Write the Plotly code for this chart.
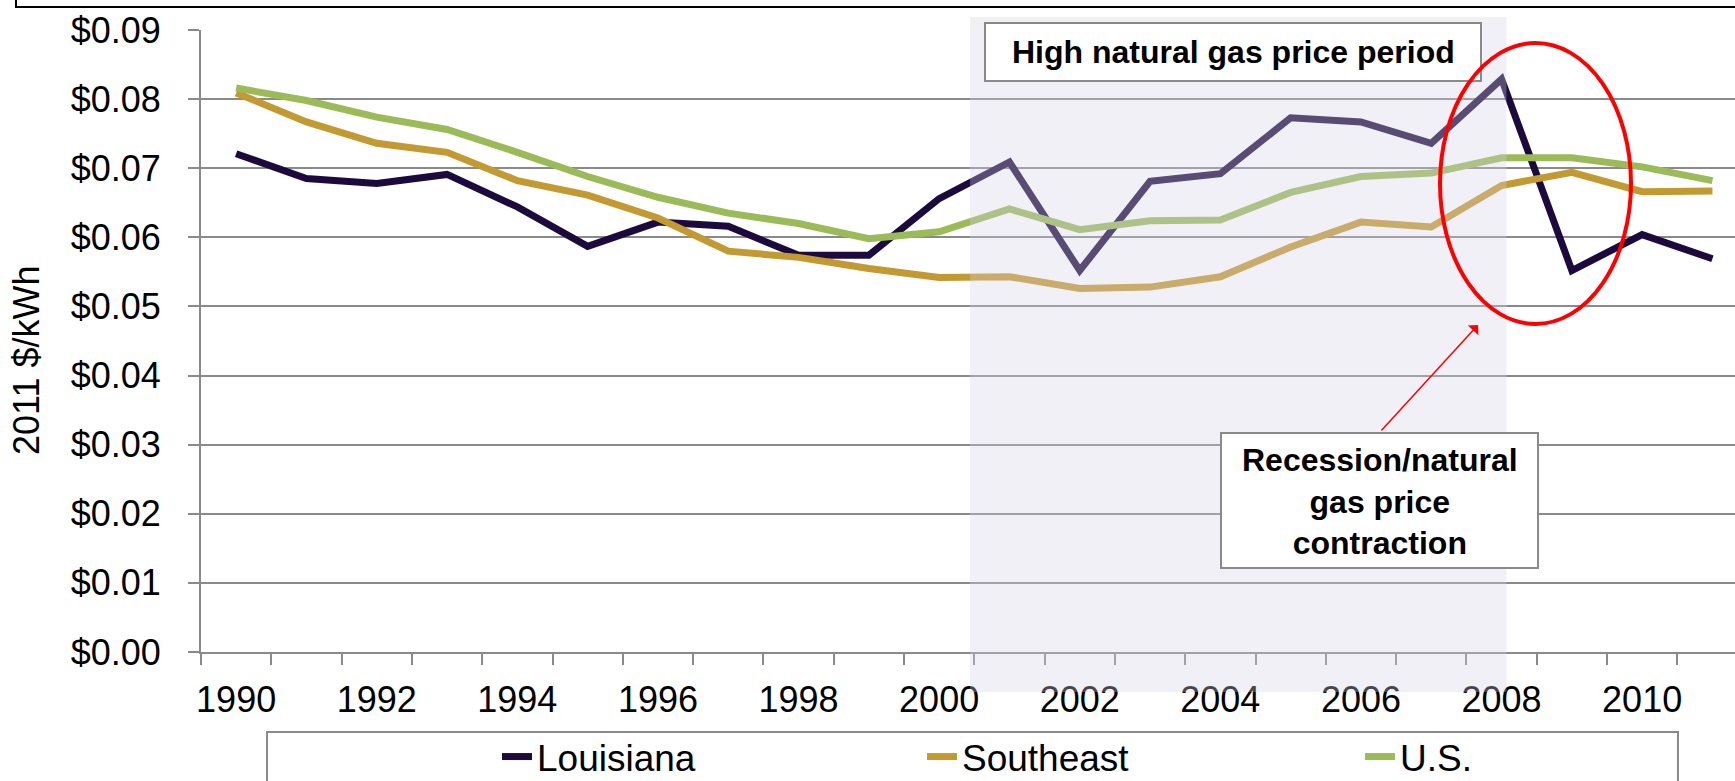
import plotly.graph_objects as go

years = list(range(1990, 2012))
louisiana = [0.0721, 0.0685, 0.0678, 0.0691, 0.0644, 0.0587, 0.0622, 0.0616, 0.0574, 0.0574,
             0.0656, 0.0709, 0.0552, 0.0681, 0.0692, 0.0773, 0.0767, 0.0736, 0.0829, 0.0552,
             0.0604, 0.0569]
southeast = [0.0809, 0.0767, 0.0736, 0.0723, 0.0682, 0.0661, 0.0628, 0.0580, 0.0571, 0.0555,
             0.0542, 0.0543, 0.0526, 0.0528, 0.0543, 0.0586, 0.0622, 0.0615, 0.0675, 0.0694,
             0.0666, 0.0667]
us = [0.0816, 0.0798, 0.0774, 0.0756, 0.0723, 0.0688, 0.0658, 0.0635, 0.0620, 0.0598,
      0.0608, 0.0641, 0.0611, 0.0624, 0.0625, 0.0665, 0.0688, 0.0693, 0.0715, 0.0715,
      0.0702, 0.0682]
series_names = ["Louisiana", "Southeast", "U.S."]
series_colors = ["#1c0a3c", "#c39a31", "#9bbb59"]
x_tick_years = list(range(1990, 2011, 2))
y_ticks = [i / 100 for i in range(0, 10)]
high_gas_period = (2000.44, 2008.07)

W, H = 1735, 781
L, R, T, B = 201, 0, 30, 129
pw, ph = W - L - R, H - T - B


def px(x):
    return (x - L) / pw


def py(y):
    return (H - B - y) / ph


FONT = "Liberation Sans, Arial, sans-serif"
GRID = "#8a8a8a"

legend_ids = ["legend", "legend2", "legend3"]
legend_text_x = [537, 962, 1400]

fig = go.Figure()
for name, vals, col, lid in zip(series_names, [louisiana, southeast, us], series_colors, legend_ids):
    fig.add_trace(go.Scatter(x=years, y=vals, name=name, mode="lines", legend=lid,
                             line=dict(color=col, width=7)))

shapes = [
    dict(type="rect", xref="x", yref="paper", x0=high_gas_period[0], x1=high_gas_period[1],
         y0=py(692), y1=py(17), fillcolor="rgba(214,210,230,0.33)", line=dict(width=0),
         layer="above"),
    dict(type="rect", xref="paper", yref="paper", x0=px(985), x1=px(1481), y0=py(81), y1=py(23),
         fillcolor="white", line=dict(color="#8a8a8a", width=2), layer="above"),
    dict(type="rect", xref="paper", yref="paper", x0=px(1221), x1=px(1538), y0=py(568), y1=py(433),
         fillcolor="white", line=dict(color="#8a8a8a", width=2), layer="above"),
    dict(type="circle", xref="paper", yref="paper", x0=px(1440), x1=px(1631), y0=py(324), y1=py(43),
         line=dict(color="#ff0000", width=4), layer="above"),
    dict(type="rect", xref="paper", yref="paper", x0=px(267), x1=px(1678), y0=py(800), y1=py(732),
         fillcolor="rgba(0,0,0,0)", line=dict(color="#8a8a8a", width=2), layer="above"),
    dict(type="path", xref="paper", yref="paper",
         path=f"M {px(16)},{py(-5)} L {px(16)},{py(7)} L {px(1745)},{py(7)}",
         line=dict(color="black", width=2), layer="above"),
]

annotations = [
    dict(text="<b>High natural gas price period</b>", xref="paper", yref="paper",
         x=px(1233), y=py(52), showarrow=False, font=dict(family=FONT, size=32, color="black"),
         xanchor="center", yanchor="middle"),
    dict(text="<b>Recession/natural<br>gas price<br>contraction</b>", xref="paper", yref="paper",
         x=px(1380), y=py(501), showarrow=False, font=dict(family=FONT, size=32, color="black"),
         xanchor="center", yanchor="middle", align="center"),
    dict(text="", xref="paper", yref="paper", x=px(1478), y=py(325), showarrow=True,
         ax=-98, ay=107, arrowhead=1, arrowsize=1.6, arrowwidth=1.5, arrowcolor="#ff0000",
         standoff=0, startstandoff=0),
    dict(text="2011 $/kWh", xref="paper", yref="paper", x=px(26), y=py(361), textangle=-90,
         showarrow=False, font=dict(family=FONT, size=36, color="black"),
         xanchor="center", yanchor="middle"),
]

layout_legends = {}
for lid, tx in zip(legend_ids, legend_text_x):
    layout_legends[lid] = dict(orientation="h", x=px(tx - 40), y=py(757), xanchor="left",
                               yanchor="middle", bgcolor="rgba(0,0,0,0)", borderwidth=0,
                               font=dict(family=FONT, size=37, color="black"))

fig.update_layout(
    width=W, height=H, autosize=False,
    margin=dict(l=L, r=R, t=T, b=B, pad=0, autoexpand=False),
    paper_bgcolor="white", plot_bgcolor="white",
    font=dict(family=FONT, size=36, color="black"),
    shapes=shapes, annotations=annotations,
    showlegend=True,
    **layout_legends,
)

fig.update_xaxes(
    range=[1989.5, 1989.5 + pw / 70.3], tickmode="array", tickvals=x_tick_years,
    ticktext=[str(y) for y in x_tick_years], ticks="", showgrid=False,
    showline=True, linecolor=GRID, linewidth=2, zeroline=False,
    tickfont=dict(family=FONT, size=36, color="black"), ticklabelstandoff=15,
    minor=dict(tickmode="array", tickvals=[1989.5 + k for k in range(23)], ticks="outside",
               ticklen=11, tickwidth=1.5, tickcolor=GRID, showgrid=False),
)
fig.update_yaxes(
    range=[0, 0.09], tickmode="array", tickvals=y_ticks,
    ticktext=[f"${v:.2f}" for v in y_ticks], ticks="outside", ticklen=11, tickwidth=2,
    tickcolor=GRID, showgrid=True, gridcolor=GRID, gridwidth=2,
    showline=True, linecolor=GRID, linewidth=2, zeroline=False,
    tickfont=dict(family=FONT, size=36, color="black"), ticklabelstandoff=20,
)

fig.write_html("out.html", config={"displayModeBar": False},
               post_script="document.body.style.margin='0';document.body.style.overflow='hidden';")
